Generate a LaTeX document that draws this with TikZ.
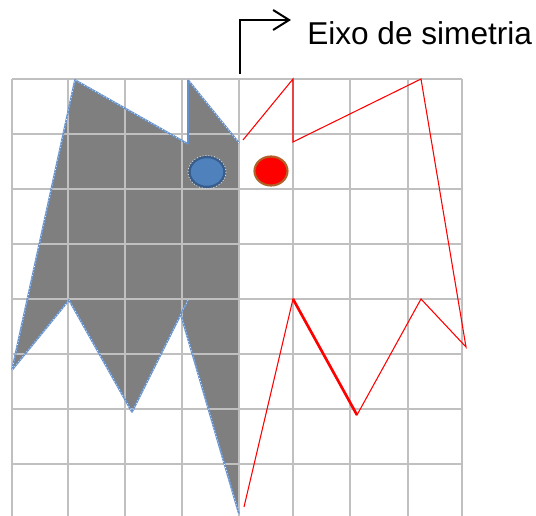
\documentclass[tikz,border=0pt]{standalone}
\usepackage{fontspec}
\setmainfont{Liberation Sans}
\usetikzlibrary{arrows.meta}
\definecolor{gridgray}{RGB}{192,192,192}
\definecolor{fillgray}{RGB}{127,127,127}
\definecolor{outlineblue}{RGB}{100,145,205}
\definecolor{dotblue}{RGB}{79,129,189}
\definecolor{dotblueedge}{RGB}{56,93,138}
\definecolor{dotbrown}{RGB}{176,96,40}

\begin{document}
\begin{tikzpicture}[x=0.75pt,y=-0.75pt,>={Straight Barb[length=12pt,width=15pt]},
  gridline/.style={gridgray,line width=2pt},
  bluefig/.style={outlineblue,line width=1.3pt,line join=round},
  bluedots/.style={white,line width=0.45pt,dash pattern=on 0.6pt off 1.8pt},
  redfig/.style={red,line width=0.8pt,line join=miter}]
  \useasboundingbox (0,0) rectangle (536,516);

  % filled half of the figure
  \fill[fillgray] (12,370) -- (75,80) -- (188,144) -- (188,80) -- (239,143)
    -- (239,514) -- (181,315) -- (132,412) -- (69,300) -- cycle;

  % grid
  \foreach \x in {12,68,125,182,239,293,350,408,462}
    \draw[gridline] (\x,79) -- (\x,516);
  \foreach \y in {79,134,189,244,299,354,409,464}
    \draw[gridline] (12,\y) -- (462,\y);

  % outline of the filled half
  \foreach \s in {bluefig,bluedots} {
    \draw[\s] (12,370) -- (75,80) -- (188,144);
    \draw[\s] (188,80) -- (239,143);
    \draw[\s] (239,514) -- (181,315);
    \draw[\s] (188,300) -- (132,412) -- (69,300) -- (12,370);
  }
  \draw[bluefig] (188,144) -- (188,80);

  % mirrored half
  \draw[redfig] (243,140) -- (293,79) -- (293,142) -- (421,79) -- (466,347)
    -- (421,299) -- (357,415) -- (293,299) -- (244,507);
  \draw[red,line width=2pt] (293,299) -- (357,415);

  % eyes
  \draw[dotblueedge,fill=dotblue,line width=1.8pt] (207,172) ellipse [x radius=17.5, y radius=15];
  \draw[white,line width=0.5pt,dash pattern=on 0.6pt off 1.6pt] (207,172) ellipse [x radius=19, y radius=16.5];
  \draw[dotbrown,fill=red,line width=1.6pt] (271,171) ellipse [x radius=16.5, y radius=14.5];

  % axis of symmetry
  \coordinate (axtop) at (240,74);
  \coordinate (tip) at (291,20);
  \draw[->,line width=1.5pt] (axtop) |- (tip);
  \node[anchor=base west,inner sep=0,font=\fontsize{23.7}{28}\selectfont] (eixo) at (307,45) {Eixo de simetria};
\end{tikzpicture}
\end{document}
